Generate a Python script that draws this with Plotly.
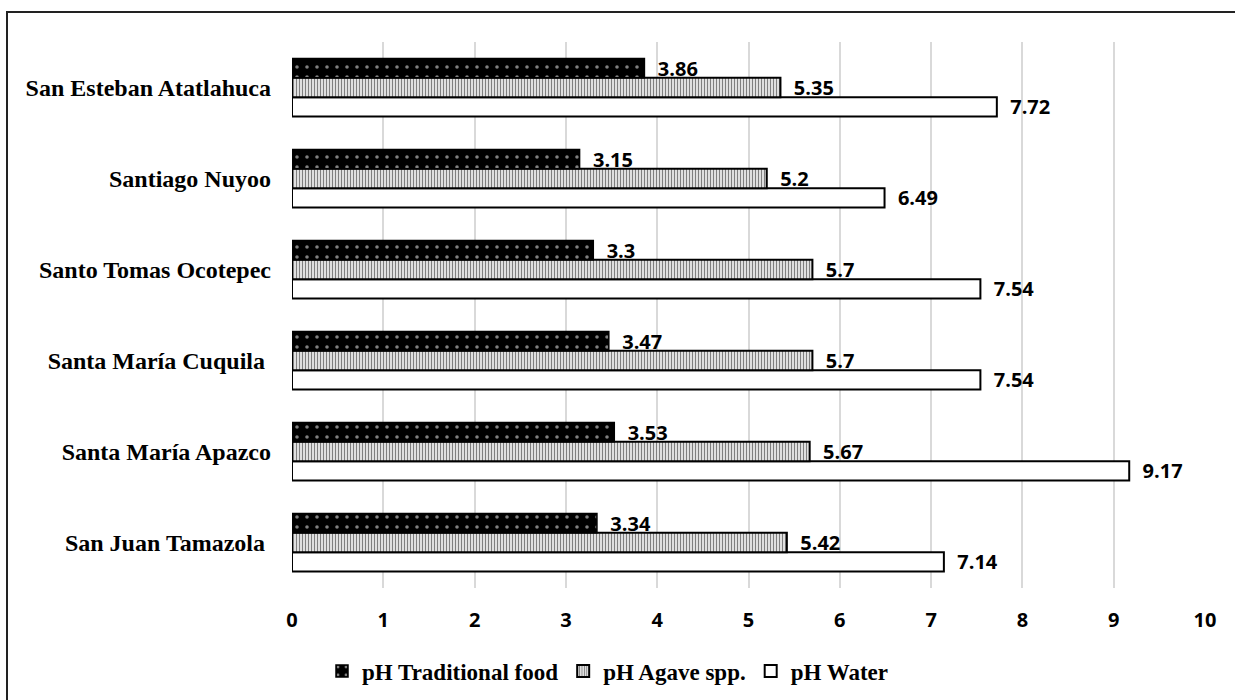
import plotly.graph_objects as go

# Communities (bottom to top as plotted on the category axis)
communities = [
    "San Juan Tamazola",
    "Santa María Apazco",
    "Santa María Cuquila",
    "Santo Tomas Ocotepec",
    "Santiago Nuyoo",
    "San Esteban Atatlahuca",
]
# Axis labels; two of them carry a trailing space in the source sheet
community_labels = [
    "San Juan Tamazola\u00a0",
    "Santa María Apazco",
    "Santa María Cuquila\u00a0",
    "Santo Tomas Ocotepec",
    "Santiago Nuyoo",
    "San Esteban Atatlahuca",
]
ph_food = [3.34, 3.53, 3.47, 3.30, 3.15, 3.86]
ph_agave = [5.42, 5.67, 5.70, 5.70, 5.20, 5.35]
ph_water = [7.14, 9.17, 7.54, 7.54, 6.49, 7.72]
x_ticks = list(range(0, 11))

W, H = 1235, 700
ML, MR, MT, MB = 292, 30, 42, 112
pw, ph = W - ML - MR, H - MT - MB

label_font = dict(family="Open Sans, Liberation Sans, sans-serif", size=20,
                  color="black", weight="bold")
common = dict(orientation="h", textposition="outside", textfont=label_font,
              cliponaxis=False, constraintext="none",
              texttemplate="  %{x}")

fig = go.Figure()

fig.add_trace(go.Bar(
    name="pH Water", y=communities, x=ph_water,
    marker=dict(color="white", line=dict(color="black", width=2)),
    legendrank=3, **common,
))
fig.add_trace(go.Bar(
    name="pH Agave spp.", y=communities, x=ph_agave,
    marker=dict(color="white", line=dict(color="black", width=2),
                pattern=dict(shape="|", fgcolor="black", bgcolor="white",
                             size=3, solidity=0.5)),
    legendrank=2, **common,
))
fig.add_trace(go.Bar(
    name="pH Traditional food", y=communities, x=ph_food,
    marker=dict(color="black", line=dict(color="black", width=1.5),
                pattern=dict(shape=".", fgcolor="white", bgcolor="black",
                             size=10, solidity=0.1)),
    legendrank=1, **common,
))

# Outer frame around the chart area
fig.add_shape(
    type="rect", xref="paper", yref="paper",
    x0=(7 - ML) / pw, x1=(W + 200 - ML) / pw,
    y0=-(MB + 200) / ph, y1=1 + (MT - 12) / ph,
    line=dict(color="#222222", width=2), fillcolor="rgba(0,0,0,0)",
    layer="below",
)

fig.update_layout(
    width=W, height=H,
    margin=dict(l=ML, r=MR, t=MT, b=MB, autoexpand=False),
    paper_bgcolor="white", plot_bgcolor="white",
    barmode="group", bargap=0.36, bargroupgap=0,
    showlegend=True,
    legend=dict(
        orientation="h", x=(322 - ML) / pw, xanchor="left",
        y=-(671 - (H - MB)) / ph, yanchor="middle",
        font=dict(family="Liberation Serif, Times New Roman, serif", size=23,
                  color="black", weight="bold"),
        traceorder="normal",
    ),
    xaxis=dict(
        range=[0, 10], tickvals=x_ticks, showgrid=True, gridcolor="#d9d9d9",
        gridwidth=1.5, zeroline=False, showline=False, automargin=False,
        tickfont=dict(family="Open Sans, Liberation Sans, sans-serif", size=20,
                      color="black", weight="bold"),
        ticklabelstandoff=18,
    ),
    yaxis=dict(
        categoryorder="array", categoryarray=communities,
        tickvals=communities, ticktext=community_labels,
        showgrid=False, zeroline=False, showline=False, automargin=False,
        tickfont=dict(family="Liberation Serif, Times New Roman, serif", size=24,
                      color="black", weight="bold"),
        ticklabelstandoff=20,
    ),
)

fig.write_html("out.html")
